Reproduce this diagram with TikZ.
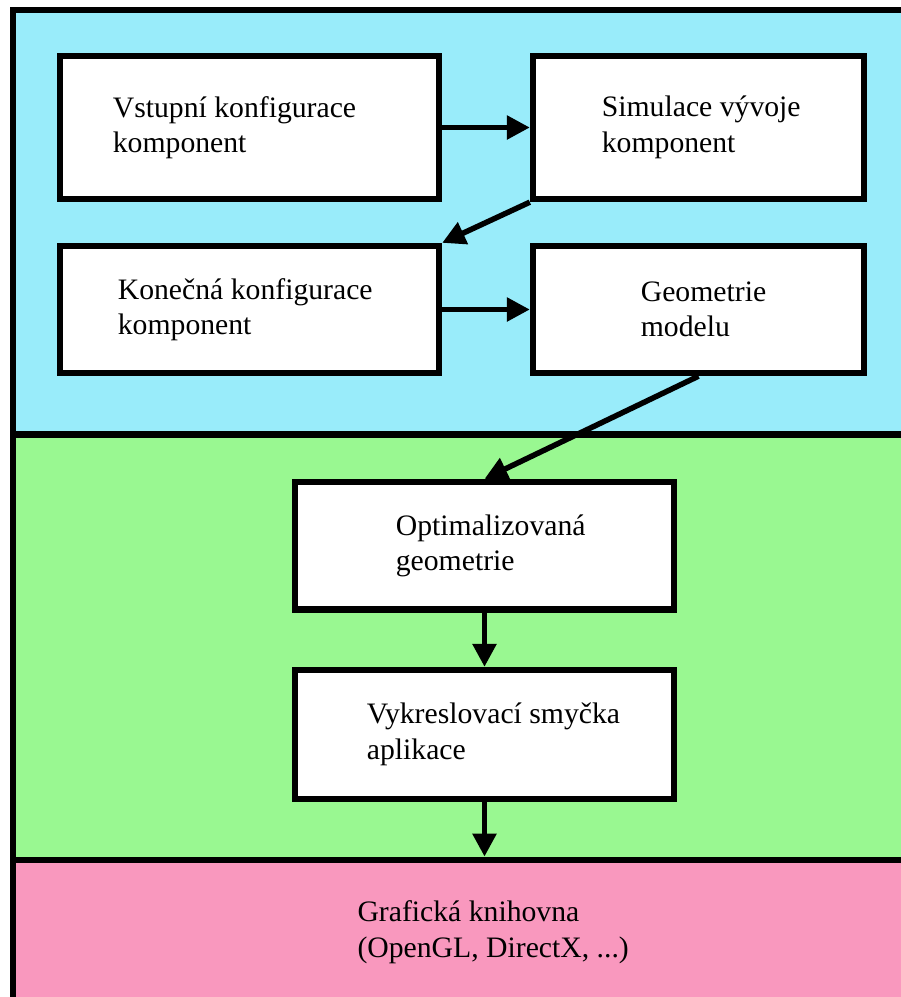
\documentclass[tikz,border=0pt]{standalone}
\usepackage{fontspec}
\setmainfont{Liberation Serif}
\usetikzlibrary{arrows.meta,positioning}

\definecolor{vrstvaModra}{RGB}{153,236,250}
\definecolor{vrstvaZelena}{RGB}{153,248,145}
\definecolor{vrstvaRuzova}{RGB}{249,152,190}

\tikzset{
  blok/.style={draw, line width=6.3pt, fill=white, inner sep=0pt},
  popis/.style={inner sep=0pt, outer sep=0pt, align=left, font=\fontsize{29.7}{35.5}\selectfont},
  sipka/.style={line width=5.5pt, -{Triangle[length=23pt,width=23pt]}},
  ramecek/.style={line width=6.7pt}
}

\begin{document}
\begin{tikzpicture}[x=1pt,y=1pt,yscale=-1,xscale=1]
            \useasboundingbox (0,0) rectangle (901,997);
            % vrstvy
            \begin{scope}
            \clip (0,0) rectangle (901,997);
            \fill [vrstvaModra] (13,10) rectangle (910,434.5);
            \fill [vrstvaZelena] (13,434.5) rectangle (910,860);
            \fill [vrstvaRuzova] (13,860) rectangle (910,1010);
            \draw [ramecek] (13,10) rectangle (910,1010);
            \draw [ramecek] (13,434.5) -- (910,434.5);
            \draw [ramecek] (13,860) -- (910,860);
            \end{scope}
            % bloky
            \node [blok, minimum width=379pt, minimum height=143pt] (vstup) at (249.5,127.5) {};
            \node [blok, minimum width=331pt, minimum height=143pt] (simulace) at (698.5,127.5) {};
            \node [blok, minimum width=379pt, minimum height=127pt] (konec) at (249.5,309.5) {};
            \node [blok, minimum width=331pt, minimum height=127pt] (geometrie) at (698.5,309.5) {};
            \node [blok, minimum width=379pt, minimum height=127.5pt] (optim) at (484.5,545.75) {};
            \node [blok, minimum width=379pt, minimum height=129pt] (smycka) at (484.5,734.5) {};
            \coordinate (knihovna) at (484.5,856.6);
            % Text Node
            \node [popis, right=56pt of vstup.west] (vstupText) {Vstupní konfigurace\\komponent};
            \node [popis, right=72pt of simulace.west] (simulaceText) {Simulace vývoje\\komponent};
            \node [popis, right=61pt of konec.west] (konecText) {Konečná konfigurace\\komponent};
            \node [popis, right=111pt of geometrie.west] (geometrieText) {Geometrie\\modelu};
            \node [popis, right=104pt of optim.west] (optimText) {Optimalizovaná\\geometrie};
            \node [popis, right=75pt of smycka.west] (smyckaText) {Vykreslovací smyčka\\aplikace};
            \node [popis, anchor=west] (knihovnaText) at (357.5,932) {Grafická knihovna\\(OpenGL, DirectX, ...)};
            % sipky
            \draw [sipka] (vstup) -- (simulace);
            \draw [sipka] (simulace.south west) -- (konec.north east);
            \draw [sipka] (konec) -- (geometrie);
            \draw [sipka] (geometrie.south) -- (optim.north);
            \draw [sipka] (optim) -- (smycka);
            \draw [sipka] (smycka) -- (knihovna);
\end{tikzpicture}
\end{document}
